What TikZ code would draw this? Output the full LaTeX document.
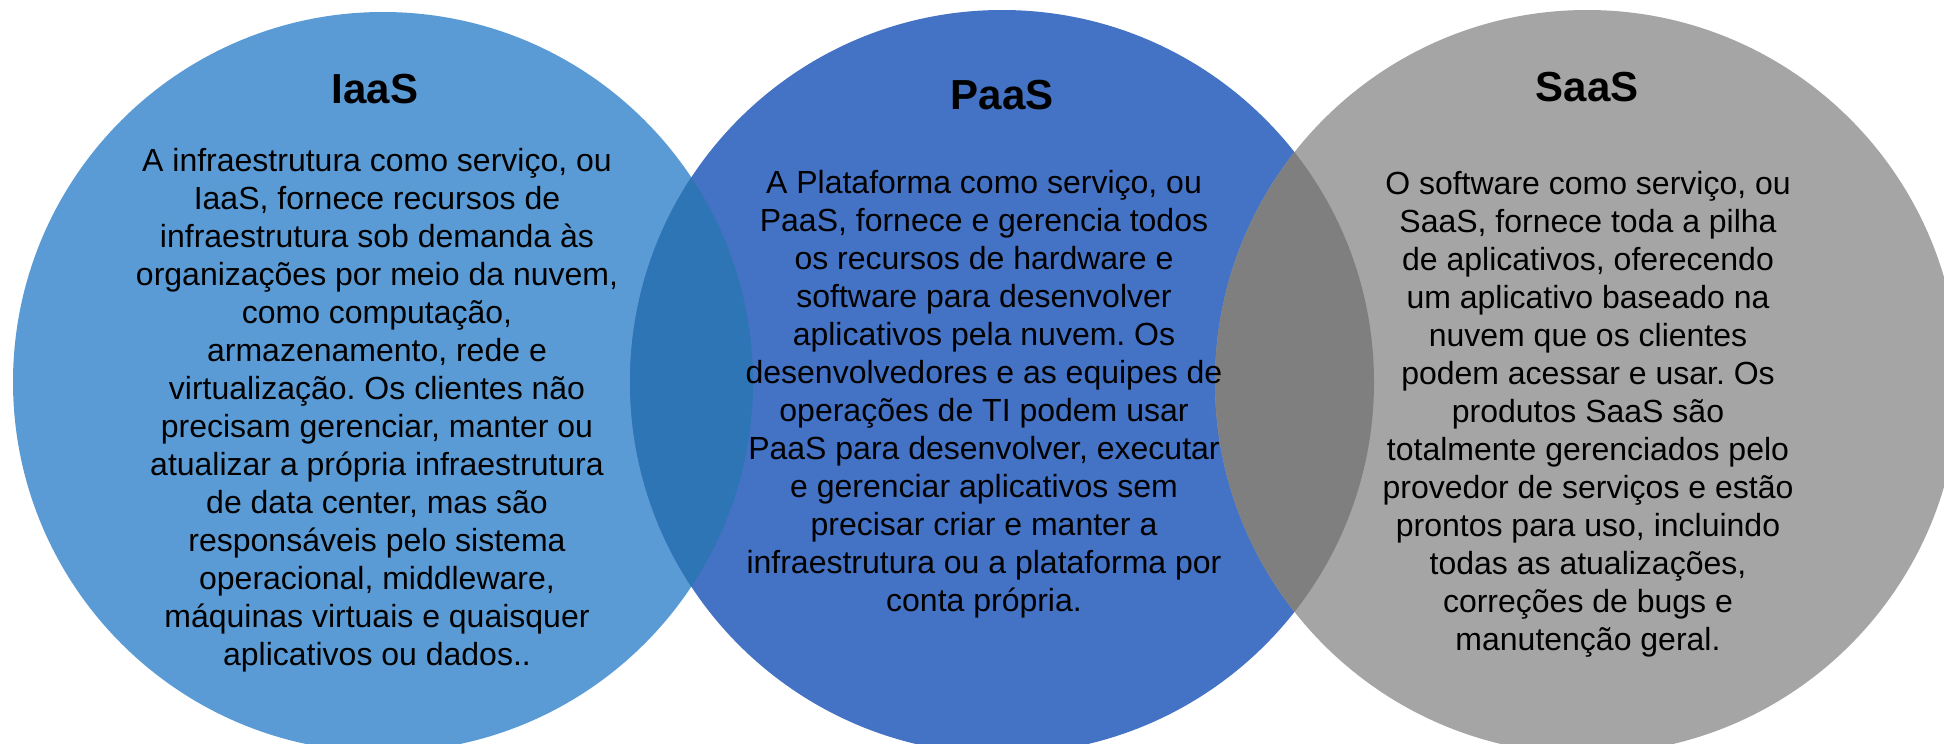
\documentclass[tikz,border=0pt]{standalone}
\usepackage{fontspec}
\setmainfont{Liberation Sans}
\usepackage{tikz}
\usetikzlibrary{positioning}
\frenchspacing

\definecolor{iaasblue}{HTML}{5B9BD5}
\definecolor{paasblue}{HTML}{4472C4}
\definecolor{saasgray}{HTML}{A5A5A5}
\definecolor{lensblue}{HTML}{2E75B6}
\definecolor{lensgray}{HTML}{7F7F7F}

\begin{document}
\begin{tikzpicture}[
    x=0.5pt, y=-0.5pt,
    heading/.style={font=\bfseries\fontsize{21}{25}\selectfont, inner sep=0pt},
    body/.style={font=\fontsize{16}{19}\selectfont, align=center, inner sep=0pt}
]
    \useasboundingbox (0,0) rectangle (1944,744);
    \clip (0,0) rectangle (1944,744);

    \coordinate (ciaas) at (383,382);
    \coordinate (cpaas) at (1002,382);
    \coordinate (csaas) at (1587,382);

    % circles
    \fill[iaasblue] (ciaas) circle[radius=185pt];
    \fill[paasblue] (cpaas) circle[radius=186pt];
    \fill[saasgray] (csaas) circle[radius=186pt];

    % overlaps
    \begin{scope}
        \clip (ciaas) circle[radius=185pt];
        \fill[lensblue] (cpaas) circle[radius=186pt];
    \end{scope}
    \begin{scope}
        \clip (cpaas) circle[radius=186pt];
        \fill[lensgray] (csaas) circle[radius=186pt];
    \end{scope}

    \node[heading] (iaas) at (375,89) {IaaS};
    \node[heading] (paas) at (1002,95) {PaaS};
    \node[heading] (saas) at (1587,87) {SaaS};

    \node[body] (iaastext) at (377,410) {
        A infraestrutura como serviço, ou\\
        IaaS, fornece recursos de\\
        infraestrutura sob demanda às\\
        organizações por meio da nuvem,\\
        como computação,\\
        armazenamento, rede e\\
        virtualização. Os clientes não\\
        precisam gerenciar, manter ou\\
        atualizar a própria infraestrutura\\
        de data center, mas são\\
        responsáveis pelo sistema\\
        operacional, middleware,\\
        máquinas virtuais e quaisquer\\
        aplicativos ou dados..
    };

    \node[body] (paastext) at (984,394) {
        A Plataforma como serviço, ou\\
        PaaS, fornece e gerencia todos\\
        os recursos de hardware e\\
        software para desenvolver\\
        aplicativos pela nuvem. Os\\
        desenvolvedores e as equipes de\\
        operações de TI podem usar\\
        PaaS para desenvolver, executar\\
        e gerenciar aplicativos sem\\
        precisar criar e manter a\\
        infraestrutura ou a plataforma por\\
        conta própria.
    };

    \node[body] (saastext) at (1588,414) {
        O software como serviço, ou\\
        SaaS, fornece toda a pilha\\
        de aplicativos, oferecendo\\
        um aplicativo baseado na\\
        nuvem que os clientes\\
        podem acessar e usar. Os\\
        produtos SaaS são\\
        totalmente gerenciados pelo\\
        provedor de serviços e estão\\
        prontos para uso, incluindo\\
        todas as atualizações,\\
        correções de bugs e\\
        manutenção geral.
    };
\end{tikzpicture}
\end{document}
